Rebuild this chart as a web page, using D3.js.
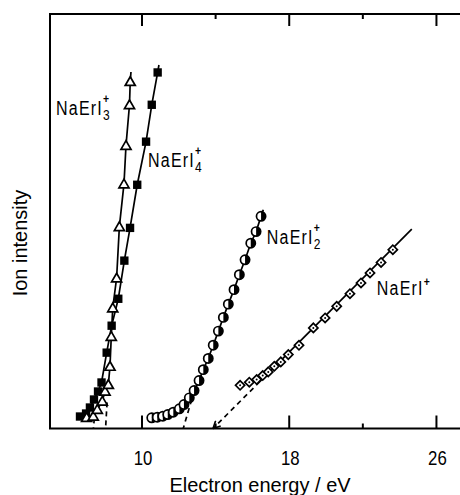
<!DOCTYPE html>
<html>
<head>
<meta charset="utf-8">
<script src="https://cdn.jsdelivr.net/npm/d3@7"></script>
<style>
  body { margin: 0; background: #fff; }
  svg { display: block; }
  .lbl { font-family: "Liberation Sans", Arial, sans-serif; }
</style>
</head>
<body>
<div id="chart-area"></div>
<script>
// NaErI3+ (open triangles)
const tri3E = [6.99, 7.35, 7.57, 7.84, 7.99, 8.17, 8.26, 8.33, 8.41, 8.62, 8.77, 9.02, 9.13, 9.32, 9.36]
const tri3I = [2.65, 2.96, 4.58, 6.58, 8.99, 10.6, 15.0, 22.2, 29.1, 36.3, 48.7, 59.0, 68.3, 78.1, 83.7]
const tri3Tip = [9.40, 86.0]
const tri3Dash = [[8.10, 6.3], [8.02, 0]]

// NaErI4+ (filled squares)
const sq4E = [6.63, 6.96, 7.17, 7.39, 7.61, 7.80, 8.08, 8.35, 8.71, 9.04, 9.35, 9.74, 10.22, 10.53, 10.85]
const sq4I = [2.89, 3.61, 5.06, 6.99, 8.92, 11.1, 18.3, 24.8, 31.3, 40.5, 48.4, 58.8, 69.2, 78.1, 85.9]
const sq4Tip = [10.92, 87.7]
const sq4Dash = [[7.45, 4.6], [7.36, 0]]

// NaErI2+ (half filled circles)
const ci2E = [10.53, 10.83, 11.13, 11.40, 11.70, 12.03, 12.28, 12.57, 12.83, 13.10, 13.33, 13.60, 13.87,
  14.15, 14.42, 14.69, 15.00, 15.29, 15.60, 15.91, 16.20, 16.47]
const ci2I = [2.58, 2.72, 2.96, 3.37, 3.93, 4.75, 5.78, 7.40, 9.16, 11.57, 14.2, 16.9, 20.1,
  23.5, 26.8, 30.0, 33.5, 37.1, 40.7, 44.7, 47.5, 51.2]
const ci2Tip = [16.59, 52.8]
const ci2Dash = [[12.70, 7.0], [12.24, 0]]

// NaErI+ (open diamonds)
const di1E = [15.33, 15.83, 16.23, 16.56, 16.86, 17.19, 17.54, 17.95, 18.53, 19.31, 19.95, 20.58,
  21.30, 21.90, 22.39, 22.99, 23.63]
const di1I = [10.43, 11.16, 11.81, 12.77, 13.66, 15.01, 16.07, 17.83, 20.07, 24.27, 26.67, 29.47,
  32.53, 35.11, 37.52, 40.07, 43.13]
const di1Line = [[16.4, 11.3], [24.66, 48.1]]
const di1Dash = [[16.4, 11.3], [13.86, 0]]

const xTicks = [10, 18, 26]
const xMinor = [14, 22]

const width = 460, height = 495
const margin = { left: 50, right: 0, top: 14, bottom: 66 }

let svg = d3.select('#chart-area')
  .append('svg')
  .attr('width', width)
  .attr('height', height)

let x = d3.scaleLinear()
  .domain([5, 27.28])
  .range([margin.left, width])

let y = d3.scaleLinear()
  .domain([0, 100])
  .range([height - margin.bottom - 0.5, margin.top])

const bottom = y(0)

// arrow head for NaErI+ onset
svg.append('defs').append('marker')
  .attr('id', 'arrow')
  .attr('viewBox', '0 0 10 10')
  .attr('refX', 9).attr('refY', 5)
  .attr('markerWidth', 9).attr('markerHeight', 9)
  .attr('markerUnits', 'userSpaceOnUse')
  .attr('orient', 'auto')
  .append('path')
  .attr('d', 'M1,1 L9,5 L1,9')
  .attr('fill', 'none')
  .attr('stroke', '#000')
  .attr('stroke-width', 1.8)

// frame: left, top, bottom
let axis = svg.append('g').attr('stroke', '#000').attr('stroke-width', 2)
axis.append('line').attr('x1', x.range()[0]).attr('x2', x.range()[0]).attr('y1', y(100)).attr('y2', bottom)
axis.append('line').attr('x1', x.range()[0] - 1).attr('x2', width).attr('y1', y(100)).attr('y2', y(100))
axis.append('line').attr('x1', x.range()[0] - 1).attr('x2', width).attr('y1', bottom).attr('y2', bottom)

axis.selectAll('.tb').data(xTicks).join('line')
  .attr('x1', d => x(d)).attr('x2', d => x(d))
  .attr('y1', bottom).attr('y2', bottom - 13)
axis.selectAll('.tbm').data(xMinor).join('line')
  .attr('x1', d => x(d)).attr('x2', d => x(d))
  .attr('y1', bottom).attr('y2', bottom - 5)
axis.selectAll('.tt').data(xTicks).join('line')
  .attr('x1', d => x(d)).attr('x2', d => x(d))
  .attr('y1', y(100)).attr('y2', y(100) + 12)
axis.selectAll('.ttm').data(xMinor).join('line')
  .attr('x1', d => x(d)).attr('x2', d => x(d))
  .attr('y1', y(100)).attr('y2', y(100) + 5)

// narrow tick labels (condensed look)
svg.append('g').selectAll('text').data(xTicks).join('text')
  .attr('class', 'lbl')
  .attr('transform', d => `translate(${x(d) + 1}, 465) scale(0.8, 1)`)
  .attr('text-anchor', 'middle')
  .style('font-size', '21px')
  .text(d => d)

svg.append('text')
  .attr('x', 260).attr('y', 492)
  .attr('text-anchor', 'middle')
  .style('font', '20px "Liberation Sans", Arial, sans-serif')
  .text('Electron energy / eV')

svg.append('text')
  .attr('transform', 'translate(27, 243) rotate(-90)')
  .attr('text-anchor', 'middle')
  .style('font', '20px "Liberation Sans", Arial, sans-serif')
  .text('Ion intensity')

// curves
const line = d3.line().x(d => x(d[0])).y(d => y(d[1]))
const zip = (e, v) => e.map((d, i) => [d, v[i]])

const tri3 = zip(tri3E, tri3I), sq4 = zip(sq4E, sq4I), ci2 = zip(ci2E, ci2I), di1 = zip(di1E, di1I)

let lines = svg.append('g').attr('fill', 'none').attr('stroke', '#000').attr('stroke-width', 1.7)
lines.append('path').attr('d', line(tri3.concat([tri3Tip])))
lines.append('path').attr('d', line(sq4.concat([sq4Tip])))
lines.append('path').attr('d', line(ci2.concat([ci2Tip])))
lines.append('path').attr('d', line(di1Line))

let dashes = svg.append('g').attr('fill', 'none').attr('stroke', '#000')
  .attr('stroke-width', 1.7).attr('stroke-dasharray', '5,4')
dashes.append('path').attr('d', line(tri3Dash))
dashes.append('path').attr('d', line(sq4Dash))
dashes.append('path').attr('d', line(ci2Dash))
dashes.append('path').attr('d', line(di1Dash)).attr('marker-end', 'url(#arrow)')

// markers
svg.append('g').selectAll('path').data(sq4).join('path')
  .attr('transform', d => `translate(${x(d[0])}, ${y(d[1])})`)
  .attr('d', d3.symbol(d3.symbolSquare, 70))
  .attr('fill', '#000')

svg.append('g').selectAll('path').data(tri3).join('path')
  .attr('transform', d => `translate(${x(d[0])}, ${y(d[1]) + 1})`)
  .attr('d', d3.symbol(d3.symbolTriangle, 44))
  .attr('fill', '#fff').attr('stroke', '#000').attr('stroke-width', 1.7)

let c = svg.append('g').selectAll('g').data(ci2).join('g')
  .attr('transform', d => `translate(${x(d[0])}, ${y(d[1])})`)
c.append('circle').attr('r', 4.6).attr('fill', '#fff').attr('stroke', '#000').attr('stroke-width', 1.7)
c.append('path').attr('d', 'M0,-4.6 A4.6,4.6 0 0 1 0,4.6 Z').attr('fill', '#000')

let dm = svg.append('g').selectAll('g').data(di1).join('g')
  .attr('transform', d => `translate(${x(d[0])}, ${y(d[1])})`)
dm.append('path')
  .attr('d', d3.symbol(d3.symbolSquare, 42))
  .attr('transform', 'rotate(45)')
  .attr('fill', '#fff').attr('stroke', '#000').attr('stroke-width', 1.7)
dm.append('circle').attr('r', 1).attr('fill', '#000')

// species labels: base name, subscript and superscript as separate texts
const labels = [
  { e: 5.33, v: 75.7, sub: '3', sup: '+' },
  { e: 10.33, v: 63.1, sub: '4', sup: '+' },
  { e: 16.78, v: 44.6, sub: '2', sup: '+' },
  { e: 22.76, v: 32.3, sub: '', sup: '+' }
]
labels.forEach(l => {
  let g = svg.append('g')
    .attr('transform', `translate(${x(l.e)}, ${y(l.v)}) scale(0.8, 1)`)
  let base = g.append('text').attr('class', 'lbl')
    .style('font-size', '20px').style('letter-spacing', '1.5px')
    .text('NaErI')
  let w = base.node().getComputedTextLength()
  if (l.sub) {
    g.append('text').attr('class', 'lbl')
      .attr('x', w).attr('y', 5)
      .style('font-size', '15px').text(l.sub)
    g.append('text').attr('class', 'lbl')
      .attr('x', w).attr('y', -12)
      .style('font-size', '13px').style('font-weight', 'bold').text(l.sup)
  } else {
    g.append('text').attr('class', 'lbl')
      .attr('x', w).attr('y', -9)
      .style('font-size', '13px').style('font-weight', 'bold').text(l.sup)
  }
})
</script>
</body>
</html>
